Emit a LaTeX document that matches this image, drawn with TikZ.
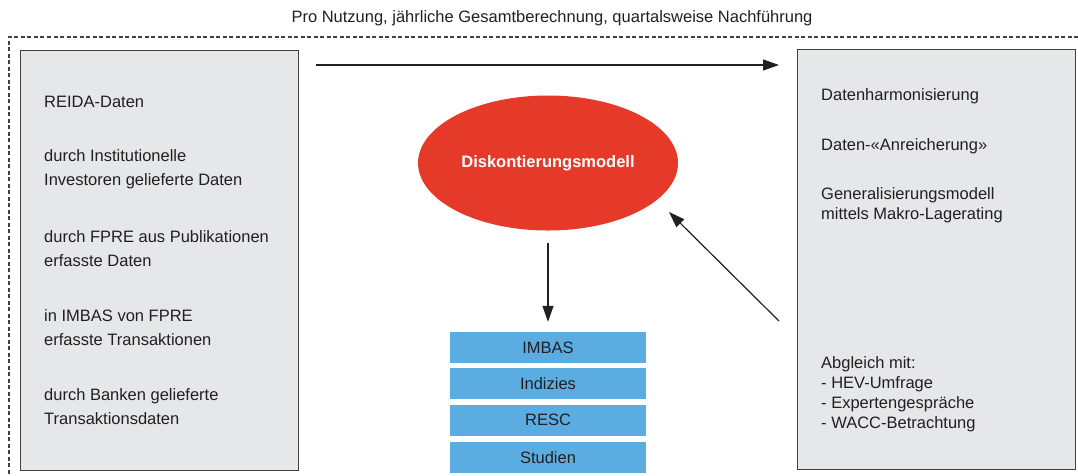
\documentclass[tikz,border=0pt]{standalone}
\usepackage{fontspec}
\setmainfont{Liberation Sans}
\usepackage{xcolor}
\usetikzlibrary{positioning,shapes.geometric,arrows.meta}

\definecolor{boxgrau}{HTML}{E6E7E8}
\definecolor{randgrau}{HTML}{404041}
\definecolor{fprerot}{HTML}{E53A2A}
\definecolor{fpreblau}{HTML}{5BADE1}
\definecolor{schrift}{HTML}{231F20}

\begin{document}
\begin{tikzpicture}[x=1pt,y=-1pt,
    font=\fontsize{16.5}{24}\selectfont, text=schrift,
    kasten/.style={draw=randgrau,fill=boxgrau,line width=1.3pt,minimum width=278pt,minimum height=420pt,anchor=north west,inner sep=0pt},
    eintrag/.style={anchor=west,align=left,inner sep=0pt},
    stapel/.style={fill=fpreblau,minimum width=196pt,minimum height=31pt,inner sep=0pt},
    pfeil/.style={draw=schrift,line width=1.2pt,-{Triangle[length=16pt,width=11pt]}}]
  \useasboundingbox (0,0) rectangle (1078,475);
  % Rahmen
  \draw[randgrau,line width=1.2pt,dash pattern=on 4pt off 2.5pt] (9,480) -- (9,37) -- (1085,37);
  \node (titel) at (552,18) {Pro Nutzung, jährliche Gesamtberechnung, quartalsweise Nachführung};
  % Datenquellen
  \node[kasten] (quellen) at (20,50) {};
  \node[eintrag] (reida) at (44,102) {REIDA-Daten};
  \node[eintrag] (invest) at (44,169) {durch Institutionelle\\Investoren gelieferte Daten};
  \node[eintrag] (publik) at (44,249) {durch FPRE aus Publikationen\\erfasste Daten};
  \node[eintrag] (imbasq) at (44,328) {in IMBAS von FPRE\\erfasste Transaktionen};
  \node[eintrag] (banken) at (44,407) {durch Banken gelieferte\\Transaktionsdaten};
  % Aufbereitung
  \node[kasten] (aufber) at (797,49) {};
  \begin{scope}[font=\fontsize{16.5}{20}\selectfont]
    \node[eintrag] (harmon) at (821,96) {Datenharmonisierung};
    \node[eintrag] (anreich) at (821,146) {Daten-«Anreicherung»};
    \node[eintrag] (general) at (821,205) {Generalisierungsmodell\\mittels Makro-Lagerating};
    \node[eintrag] (abgleich) at (821,394) {Abgleich mit:\\- HEV-Umfrage\\- Expertengespräche\\- WACC-Betrachtung};
  \end{scope}
  % Modell
  \node[ellipse,fill=fprerot,minimum width=260pt,minimum height=135pt,inner sep=0pt,
        text=white,font=\fontsize{16.5}{20}\selectfont\bfseries] (modell) at (548,163) {Diskontierungsmodell};
  % Produkte
  \node[stapel] (imbas) at (548,347.5) {IMBAS};
  \node[stapel,below=5pt of imbas] (indizes) {Indizies};
  \node[stapel,below=5pt of indizes] (resc) {RESC};
  \node[stapel,below=6pt of resc] (studien) {Studien};
  % Pfeile
  \coordinate (fluss-a) at (316,65);
  \coordinate (fluss-b) at (779,65);
  \coordinate (rueck-a) at (779,321);
  \coordinate (rueck-b) at (669,212);
  \path
    (fluss-a) edge[pfeil] (fluss-b)
    ([yshift=-12pt]modell.south) edge[pfeil] ([yshift=10pt]imbas.north)
    (rueck-a) edge[pfeil] (rueck-b);
\end{tikzpicture}
\end{document}
